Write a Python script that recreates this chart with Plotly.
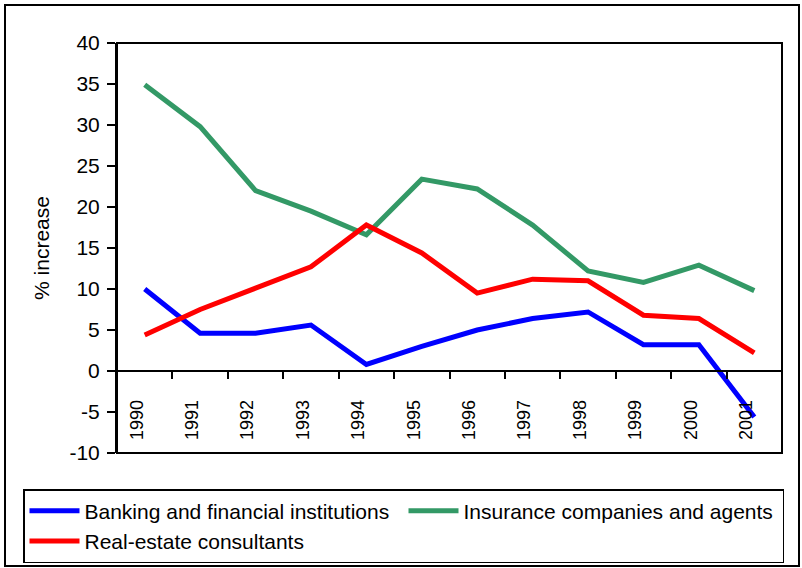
import plotly.graph_objects as go

years = ["1990", "1991", "1992", "1993", "1994", "1995", "1996",
         "1997", "1998", "1999", "2000", "2001"]
banking = [10.0, 4.6, 4.6, 5.6, 0.8, 3.0, 5.0, 6.4, 7.2, 3.2, 3.2, -5.6]
insurance = [34.9, 29.8, 22.0, 19.5, 16.6, 23.4, 22.2, 17.8, 12.2, 10.8, 12.9, 9.8]
realestate = [4.4, 7.5, 10.1, 12.7, 17.8, 14.4, 9.5, 11.2, 11.0, 6.8, 6.4, 2.2]

y_tick_values = [-10, -5, 0, 5, 10, 15, 20, 25, 30, 35, 40]
y_tick_labels = ["-10", "-5", "0", "5", "10", "15", "20", "25", "30", "35", "40"]

series_names = ["Banking and financial institutions",
                "Insurance companies and agents",
                "Real-estate consultants"]
colors = ["#0000FF", "#339966", "#FF0000"]

FONT = "Liberation Sans, Arial, sans-serif"

fig = go.Figure()
for name, vals, col in zip(series_names, [banking, insurance, realestate], colors):
    fig.add_trace(go.Scatter(
        x=years, y=vals, mode="lines", name=name,
        line=dict(color=col, width=5),
    ))

W, H = 802, 568
L, R, T, B = 117, 20, 43, 115
pw = W - L - R
ph = H - T - B

fig.update_layout(
    width=W, height=H,
    margin=dict(l=L, r=R, t=T, b=B, pad=0, autoexpand=False),
    paper_bgcolor="white", plot_bgcolor="white",
    font=dict(family=FONT, color="black", size=20),
    showlegend=True,
    legend=dict(
        orientation="h",
        xref="paper", yref="paper",
        x=(23 - L) / pw, y=(H - B - 489) / ph, xanchor="left", yanchor="top",
        bordercolor="black", borderwidth=1.5,
        font=dict(family=FONT, size=21, color="black"),
        entrywidth=314, entrywidthmode="pixels",
        itemwidth=50,
        bgcolor="white",
    ),
    xaxis=dict(
        type="category",
        range=[-0.5, 11.5],
        anchor="free", position=0.2,
        showline=True, linecolor="black", linewidth=1.5,
        ticks="outside", ticklen=7, tickwidth=1.5, tickcolor="black",
        tickson="boundaries",
        tickangle=-90,
        tickfont=dict(family=FONT, size=18, color="black"),
        ticklabelstandoff=21,
        ticklabelshift=-8,
        showgrid=False, zeroline=False,
    ),
    yaxis=dict(
        range=[-10, 40],
        tickmode="array", tickvals=y_tick_values, ticktext=y_tick_labels,
        showline=True, linecolor="black", linewidth=2,
        ticks="outside", ticklen=8, tickwidth=1.5, tickcolor="black",
        tickfont=dict(family=FONT, size=21, color="black"),
        ticklabelstandoff=3,
        showgrid=False, zeroline=False,
        title=dict(text="% increase", font=dict(family=FONT, size=21, color="black"),
                   standoff=14),
    ),
)

# plot-area frame
fig.add_shape(type="rect", xref="paper", yref="paper", x0=0, y0=0, x1=1, y1=1,
              line=dict(color="black", width=2), layer="above")
# outer chart border
fig.add_shape(type="rect", xref="paper", yref="paper",
              x0=(5 - L) / pw, x1=(799 - L) / pw,
              y0=(H - B - 566) / ph, y1=(H - B - 5) / ph,
              line=dict(color="black", width=2), layer="above")

fig.write_html("out.html",
               config={"displayModeBar": False},
               post_script="document.body.style.margin='0px';document.body.style.overflow='hidden';")
